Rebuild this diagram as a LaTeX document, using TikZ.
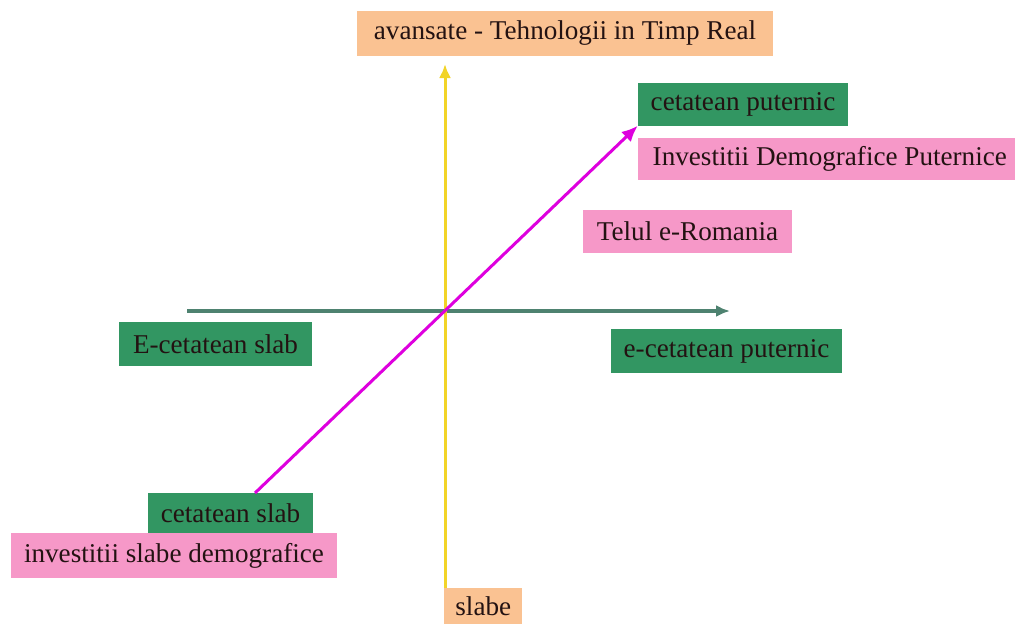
\documentclass[tikz,border=0pt]{standalone}
\usepackage{fontspec}
\setmainfont{Liberation Serif}
\usepackage{tikz}
\usetikzlibrary{positioning,arrows.meta}

\definecolor{boxgreen}{RGB}{50,150,98}
\definecolor{boxpink}{RGB}{246,152,200}
\definecolor{boxorange}{RGB}{250,194,146}
\definecolor{axisteal}{RGB}{78,130,112}
\definecolor{axisyellow}{RGB}{242,212,40}
\definecolor{pathmagenta}{RGB}{222,0,222}
\definecolor{labeltext}{RGB}{35,18,18}

\tikzset{
    label box/.style={rectangle, inner sep=0pt, text=labeltext, font=\fontsize{19.3}{22}\selectfont},
    greenbox/.style={label box, fill=boxgreen},
    pinkbox/.style={label box, fill=boxpink},
    orangebox/.style={label box, fill=boxorange},
}

\begin{document}
\begin{tikzpicture}[x=0.25mm, y=-0.25mm]
        \useasboundingbox (0,0) rectangle (1015,624);
        \node (real) [orangebox, minimum width=104mm, minimum height=11.25mm] at (565,33) {avansate - Tehnologii in Timp Real};
        \node (strong) [greenbox, minimum width=52.5mm, minimum height=10.75mm] at (743,104) {cetatean puternic};
        \node (invstrong) [pinkbox, minimum width=94.25mm, minimum height=10.5mm, anchor=west] at (638,159) {\hspace*{1.5mm}Investitii Demografice Puternice};
        \node (goal) [pinkbox, minimum width=52.25mm, minimum height=10.75mm] at (687.5,231.5) {Telul e-Romania};
        \node (eweak) [greenbox, minimum width=48.25mm, minimum height=11mm] at (215.5,344) {E-cetatean slab};
        \node (estrong) [greenbox, minimum width=57.75mm, minimum height=11mm] at (726.5,351) {e-cetatean puternic};
        \node (weak) [greenbox, minimum width=41.25mm, minimum height=10mm] at (230.5,513) {cetatean slab};
        \node (invweak) [pinkbox, minimum width=81.5mm, minimum height=11.25mm] at (174,555.5) {investitii slabe demografice};
        \node (low) [orangebox, minimum width=19.5mm, minimum height=9mm, anchor=north west] at (444,588) {slabe};

        \coordinate (hstart) at (187,311);
        \coordinate (hend) at (730,311);
        \coordinate (vstart) at (low.north west -| 445,0);
        \coordinate (vend) at (445,64);
        \coordinate (dstart) at (255,493);

        \draw[axisteal, line width=0.8mm, -{Latex[length=3.5mm,width=3mm]}] (hstart) -- (hend);
        \draw[axisyellow, line width=0.75mm, -{Latex[length=3.5mm,width=3mm]}] (vstart) -- (vend);
        \draw[pathmagenta, line width=0.75mm, -{Latex[length=4mm,width=3.5mm]}] (dstart) -- (strong.south west);
    \end{tikzpicture}
\end{document}
